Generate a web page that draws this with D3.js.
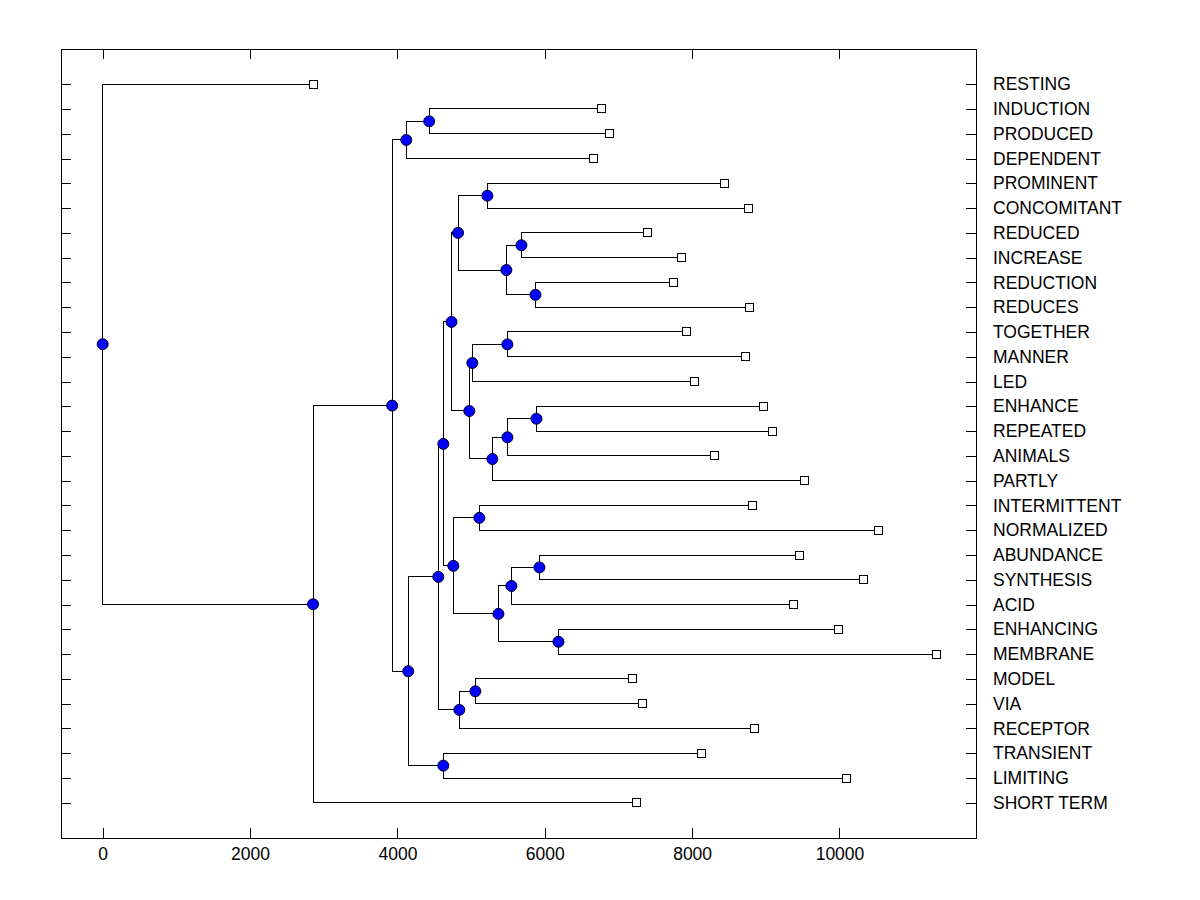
<!DOCTYPE html>
<html>
<head>
<meta charset="utf-8">
<script src="https://cdn.jsdelivr.net/npm/d3@7"></script>
<style>
  body { margin: 0; background: #fff; }
  text { font-family: "Liberation Sans", Arial, sans-serif; }
</style>
</head>
<body>
<div id="chart"></div>
<script>
// leaves, top to bottom
const leafLabels = ["RESTING", "INDUCTION", "PRODUCED", "DEPENDENT", "PROMINENT", "CONCOMITANT",
  "REDUCED", "INCREASE", "REDUCTION", "REDUCES", "TOGETHER", "MANNER", "LED", "ENHANCE",
  "REPEATED", "ANIMALS", "PARTLY", "INTERMITTENT", "NORMALIZED", "ABUNDANCE", "SYNTHESIS",
  "ACID", "ENHANCING", "MEMBRANE", "MODEL", "VIA", "RECEPTOR", "TRANSIENT", "LIMITING", "SHORT TERM"];
const leafHeights = [2855, 6771, 6880, 6662, 8443, 8770,
  7396, 7859, 7750, 8783, 7927, 8729, 8035, 8973,
  9096, 8307, 9531, 8824, 10524, 9463, 10320,
  9381, 9993, 11312, 7192, 7328, 8851, 8131, 10102, 7247];

// merges, hclust style: negative = leaf (1-based), positive = earlier merge (1-based)
const mergePairs = [[-2, -3], [1, -4], [-5, -6], [-7, -8], [-9, -10], [4, 5], [3, 6],
  [-11, -12], [8, -13], [-14, -15], [10, -16], [11, -17], [9, 12], [7, 13],
  [-18, -19], [-20, -21], [16, -22], [-23, -24], [17, 18], [15, 19], [14, 20],
  [-25, -26], [22, -27], [21, 23], [-28, -29], [24, 25], [2, 26], [27, -30], [-1, 28]];
const mergeHeights = [4432, 4120, 5221, 5683, 5874, 5479, 4823,
  5493, 5017, 5887, 5493, 5289, 4976, 4734,
  5112, 5928, 5547, 6186, 5371, 4759, 4623,
  5058, 4840, 4555, 4623, 4147, 3929, 2855, 0];

const xTicks = [0, 2000, 4000, 6000, 8000, 10000];

var width = 1200, height = 900,
    margin = {top: 49, right: 224, bottom: 62, left: 61};

var svg = d3.select("#chart").append("svg")
    .attr("width", width)
    .attr("height", height);

var x = d3.scaleLinear().domain([-566, 11853]).range([margin.left, width - margin.right]),
    y = d3.scaleLinear().domain([-1.42, leafLabels.length - 1 + 1.42]).range([margin.top, height - margin.bottom]);

// build the nodes from the merge table
var nodes = [];
function ref(r) {
  if (r < 0) return {h: leafHeights[-r - 1], pos: -r - 1, leaf: true};
  return nodes[r - 1];
}
mergePairs.forEach(function(p, i) {
  var a = ref(p[0]), b = ref(p[1]);
  nodes.push({h: mergeHeights[i], pos: (a.pos + b.pos) / 2, a: a, b: b});
});

var g = svg.append("g").attr("shape-rendering", "crispEdges");

// axes (ticks point inward)
g.append("g")
    .attr("transform", "translate(0," + (height - margin.bottom) + ")")
    .call(d3.axisBottom(x).tickValues(xTicks).tickFormat(d3.format("d"))
      .tickSizeInner(-10).tickSizeOuter(0).tickPadding(10))
    .call(a => a.select(".domain").remove())
    .selectAll("text").style("font-size", "17.5px").attr("fill", "#000");

g.append("g")
    .attr("transform", "translate(0," + margin.top + ")")
    .call(d3.axisTop(x).tickValues(xTicks).tickSizeInner(-10).tickSizeOuter(0).tickFormat(""))
    .call(a => a.select(".domain").remove());

g.append("g")
    .attr("transform", "translate(" + margin.left + ",0)")
    .call(d3.axisLeft(y).tickValues(d3.range(leafLabels.length)).tickSizeInner(-10).tickSizeOuter(0).tickFormat(""))
    .call(a => a.select(".domain").remove());

g.append("g")
    .attr("transform", "translate(" + (width - margin.right) + ",0)")
    .call(d3.axisRight(y).tickValues(d3.range(leafLabels.length)).tickSizeInner(-10).tickSizeOuter(0)
      .tickPadding(17).tickFormat(i => leafLabels[i]))
    .call(a => a.select(".domain").remove())
    .selectAll("text").style("font-size", "17.5px").attr("fill", "#000");

// plot box
g.append("rect")
    .attr("x", margin.left)
    .attr("y", margin.top)
    .attr("width", width - margin.right - margin.left)
    .attr("height", height - margin.bottom - margin.top)
    .attr("fill", "none")
    .attr("stroke", "#000");

// dendrogram branches
var links = g.append("g").attr("fill", "none").attr("stroke", "#000");
nodes.forEach(function(n) {
  var px = x(n.h);
  links.append("path")
    .attr("d", "M" + x(n.a.h) + "," + y(n.a.pos) + "H" + px + "V" + y(n.b.pos) + "H" + x(n.b.h));
});

// leaf markers
g.append("g").selectAll("rect")
  .data(leafHeights)
  .enter().append("rect")
    .attr("x", d => x(d) - 4)
    .attr("y", (d, i) => y(i) - 4)
    .attr("width", 8)
    .attr("height", 8)
    .attr("fill", "#fff")
    .attr("stroke", "#000");

// join points
svg.append("g").selectAll("circle")
  .data(nodes)
  .enter().append("circle")
    .attr("cx", d => x(d.h))
    .attr("cy", d => y(d.pos))
    .attr("r", 5.5)
    .attr("fill", "#0000ff")
    .attr("stroke", "#000020")
    .attr("stroke-width", 1);
</script>
</body>
</html>
